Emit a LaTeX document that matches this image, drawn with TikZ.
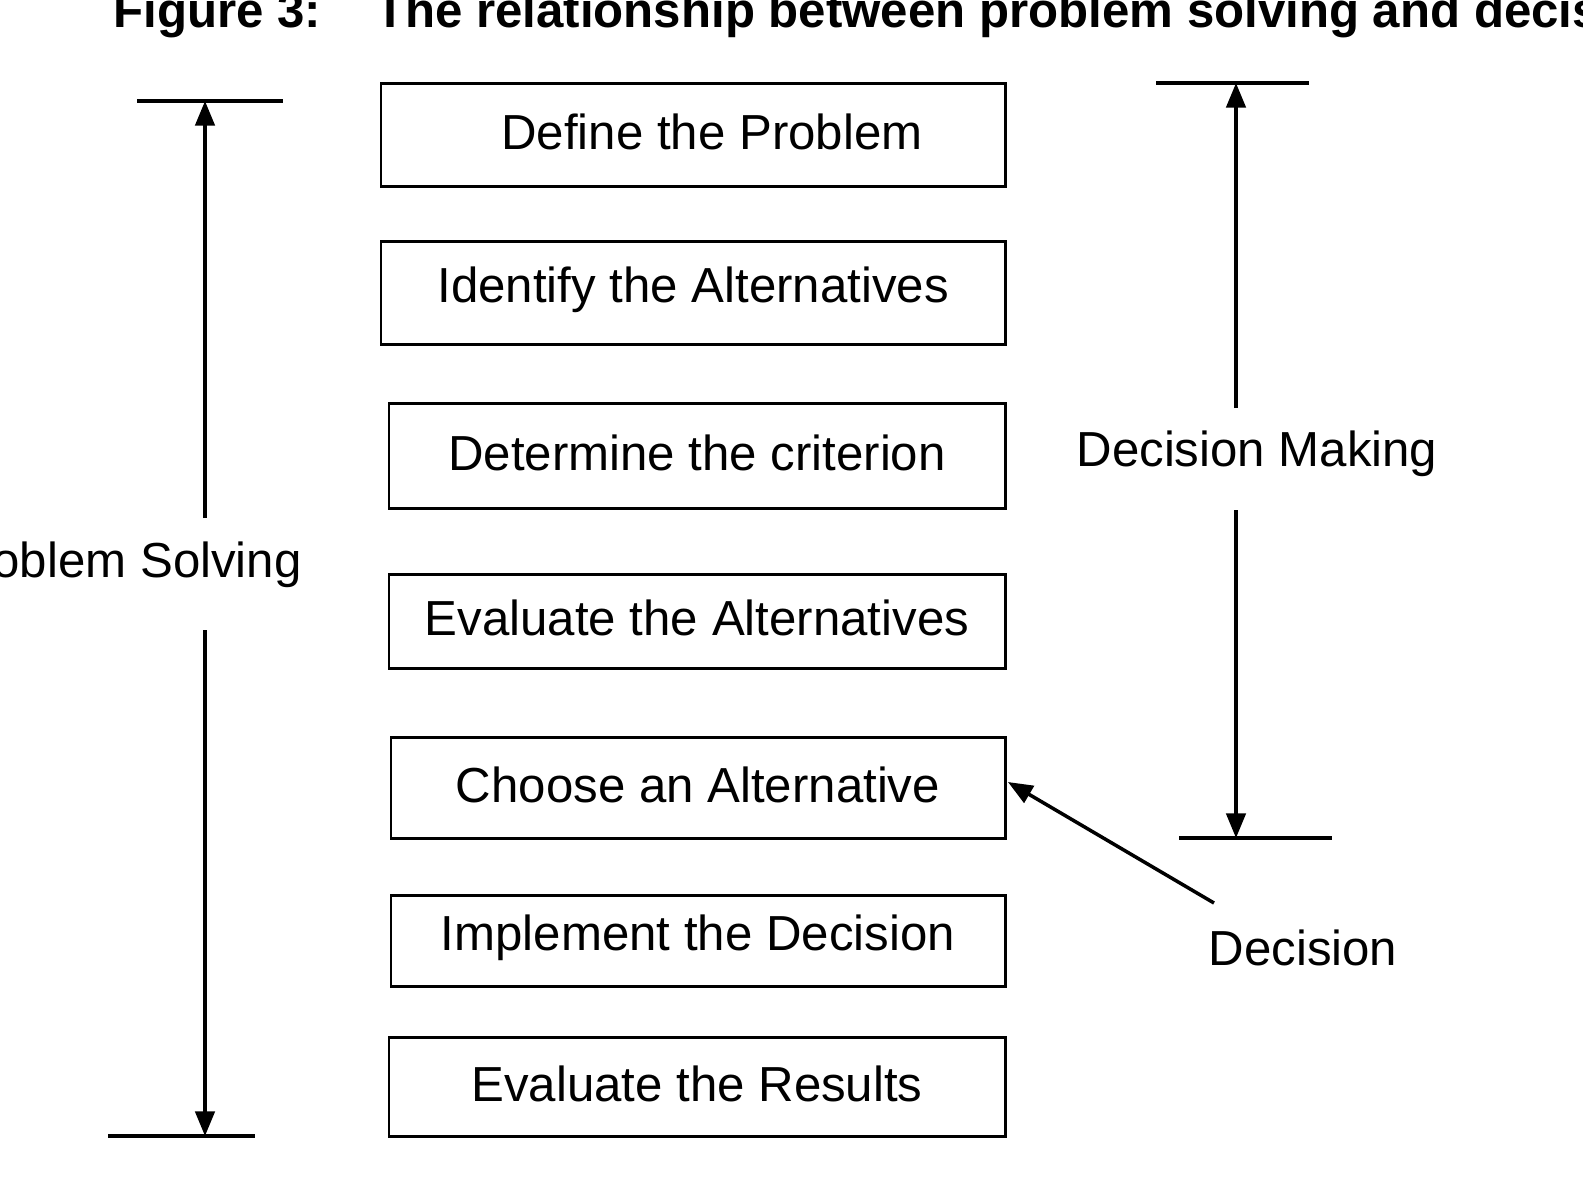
\documentclass[tikz,border=0pt]{standalone}
\usepackage{fontspec}
\setmainfont{Liberation Sans}
\usetikzlibrary{arrows.meta}
\begin{document}
\begin{tikzpicture}[x=0.02cm,y=-0.02cm,
  box/.style={draw,line width=1.7pt,inner sep=0pt},
  lbl/.style={font=\fontsize{28}{34}\selectfont,inner sep=0pt},
  ln/.style={line width=2pt},
  arr/.style={ln,-{Triangle[length=14pt,width=11pt]}}]
\useasboundingbox (0,0) rectangle (1583,1181);
\node[anchor=west,font=\bfseries\fontsize{28}{34}\selectfont,inner sep=0pt] (title) at (113,15) {Figure 3:\hspace{1.1em}The relationship between problem solving and decision making};
\foreach \n/\xa/\ya/\yb/\tx/\t in {
 b1/381/83/186/712/Define the Problem,
 b2/381/241/344/693/Identify the Alternatives,
 b3/389/403/508/697/Determine the criterion,
 b4/389/574/668/697/Evaluate the Alternatives,
 b5/391/737/838/698/Choose an Alternative,
 b6/391/895/986/698/Implement the Decision,
 b7/389/1037/1136/697/Evaluate the Results}{
 \draw[box] (\xa,\ya) rectangle (1005,\yb);
 \node[lbl] (\n) at (\tx,{(\ya+\yb)/2-3}) {\t};
}
\coordinate (b5e) at (1008,782);
% left
\coordinate (lt) at (205,101); \coordinate (lb) at (205,1136);
\draw[ln] (137,101) -- (283,101);
\draw[ln] (108,1136) -- (255,1136);
\node[lbl,anchor=east] (ps) at (302,565) {Problem Solving};
\coordinate (l1) at (205,518); \coordinate (l2) at (205,630);
\draw[arr] (l1) -- (lt);
\draw[arr] (l2) -- (lb);
% right
\coordinate (rt) at (1236,83); \coordinate (rb) at (1236,838);
\draw[ln] (1156,83) -- (1309,83);
\draw[ln] (1179,838) -- (1332,838);
\node[lbl] (dm) at (1257,454) {Decision Making};
\coordinate (r1) at (1236,408); \coordinate (r2) at (1236,510);
\draw[arr] (r1) -- (rt);
\draw[arr] (r2) -- (rb);
\node[lbl] (dec) at (1303,948) {Decision};
\coordinate (d1) at (1214,903);
\draw[arr] (d1) -- (b5e);
\end{tikzpicture}
\end{document}
